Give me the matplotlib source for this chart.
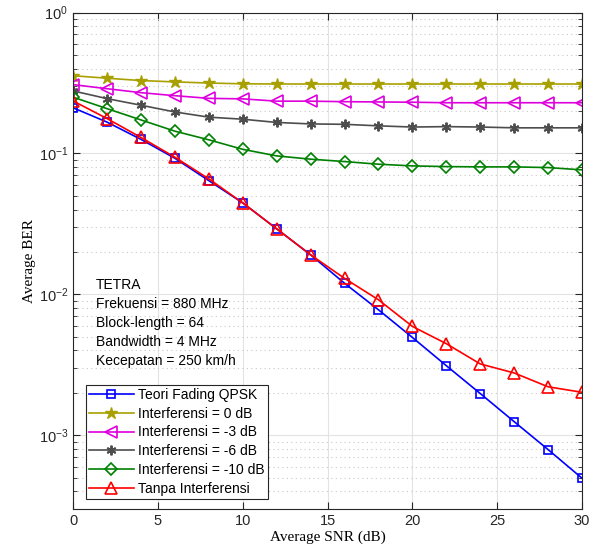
import numpy as np
import matplotlib.pyplot as plt
from matplotlib.ticker import LogLocator, NullFormatter, FuncFormatter

snr = [0, 2, 4, 6, 8, 10, 12, 14, 16, 18, 20, 22, 24, 26, 28, 30]

ber_teori = [0.211, 0.167, 0.126, 0.0925, 0.0642, 0.0446, 0.0292, 0.0191, 0.0120,
             0.00778, 0.00495, 0.00312, 0.00198, 0.00125, 0.000792, 0.000496]
ber_0db = [0.356, 0.342, 0.329, 0.322, 0.316, 0.312, 0.311, 0.311, 0.311, 0.311,
           0.311, 0.311, 0.311, 0.311, 0.311, 0.311]
ber_3db = [0.308, 0.288, 0.270, 0.257, 0.246, 0.244, 0.235, 0.235, 0.233, 0.232,
           0.231, 0.229, 0.229, 0.229, 0.229, 0.229]
ber_6db = [0.278, 0.245, 0.220, 0.197, 0.181, 0.175, 0.166, 0.162, 0.161, 0.157,
           0.154, 0.155, 0.154, 0.152, 0.152, 0.152]
ber_10db = [0.251, 0.208, 0.173, 0.144, 0.125, 0.107, 0.0961, 0.0911, 0.0876, 0.0839,
            0.0816, 0.0807, 0.0803, 0.0803, 0.0794, 0.0765]
ber_tanpa = [0.236, 0.177, 0.130, 0.0941, 0.0661, 0.0446, 0.0292, 0.0191, 0.0130,
             0.00916, 0.00593, 0.00447, 0.00321, 0.00277, 0.00221, 0.00202]

labels = ['Teori Fading QPSK', 'Interferensi = 0 dB', 'Interferensi = -3 dB',
          'Interferensi = -6 dB', 'Interferensi = -10 dB', 'Tanpa Interferensi']
info = ['TETRA', 'Frekuensi = 880 MHz', 'Block-length = 64',
        'Bandwidth = 4 MHz', 'Kecepatan = 250 km/h']

plt.rcParams['font.family'] = ['Liberation Sans', 'DejaVu Sans']
plt.rcParams['mathtext.fontset'] = 'custom'
plt.rcParams['mathtext.rm'] = 'Liberation Sans'
plt.rcParams['axes.unicode_minus'] = False

fig = plt.figure(figsize=(5.94, 5.59), dpi=100)
ax = fig.add_axes([0.1229, 0.0894, 0.857, 0.8882])

asterisk = (6, 2, 0)
ax.semilogy(snr, ber_teori, '-s', color='#0000ff', mfc='none', ms=6, lw=1.2, mew=1.2, label=labels[0])
ax.semilogy(snr, ber_0db, '-*', color='#a8a000', mfc='#a8a000', ms=9, lw=1.2, label=labels[1])
ax.semilogy(snr, ber_3db, '-<', color='#dd00dd', mfc='none', ms=8, lw=1.2, mew=1.2, label=labels[2])
ax.semilogy(snr, ber_6db, '-', marker=asterisk, color='#4d4d4d', ms=7, lw=1.2, mew=1.4, label=labels[3])
ax.semilogy(snr, ber_10db, '-D', color='#008000', mfc='none', ms=6, lw=1.2, mew=1.2, label=labels[4])
ax.semilogy(snr, ber_tanpa, '-^', color='#ff0000', mfc='none', ms=8, lw=1.2, mew=1.2, label=labels[5])

ax.set_xlim(0, 30)
ax.set_ylim(3e-4, 1)
ax.set_xticks(np.arange(0, 31, 5))
ax.yaxis.set_major_locator(LogLocator(base=10, numticks=10))
ax.yaxis.set_major_formatter(FuncFormatter(lambda v, p: r'$\mathregular{10^{%d}}$' % round(np.log10(v))))
ax.yaxis.set_minor_locator(LogLocator(base=10, subs=np.arange(2, 10), numticks=20))
ax.yaxis.set_minor_formatter(NullFormatter())

ax.grid(True, which='major', color='#e3e3e3', lw=0.8, ls='-')
ax.grid(True, which='minor', axis='y', color='#c8c8c8', lw=0.8, ls=(0, (1, 3)))
ax.set_axisbelow(True)

ax.tick_params(which='both', direction='in', top=True, right=True, labelsize=10.5,
               colors='#262626', labelcolor='#262626')
ax.tick_params(which='major', length=5)
ax.tick_params(which='minor', length=3)
for s in ax.spines.values():
    s.set_color('#262626')
    s.set_linewidth(0.8)

ax.set_xlabel('Average SNR (dB)', family='Liberation Serif', fontsize=11, labelpad=2)
ax.set_ylabel('Average BER', family='Liberation Serif', fontsize=11, labelpad=2)

ax.text(0.045, 0.465, '\n'.join(info), transform=ax.transAxes, va='top', ha='left',
        fontsize=10, linespacing=1.45, color='#000000')

leg = ax.legend(loc='lower left', bbox_to_anchor=(0.025, 0.02), fontsize=10,
                fancybox=False, framealpha=1, edgecolor='#262626', handlelength=3.2,
                borderpad=0.25, labelspacing=0.34, handletextpad=0.3, borderaxespad=0)
leg.get_frame().set_linewidth(0.8)

fig.savefig('out.png', dpi=100)
